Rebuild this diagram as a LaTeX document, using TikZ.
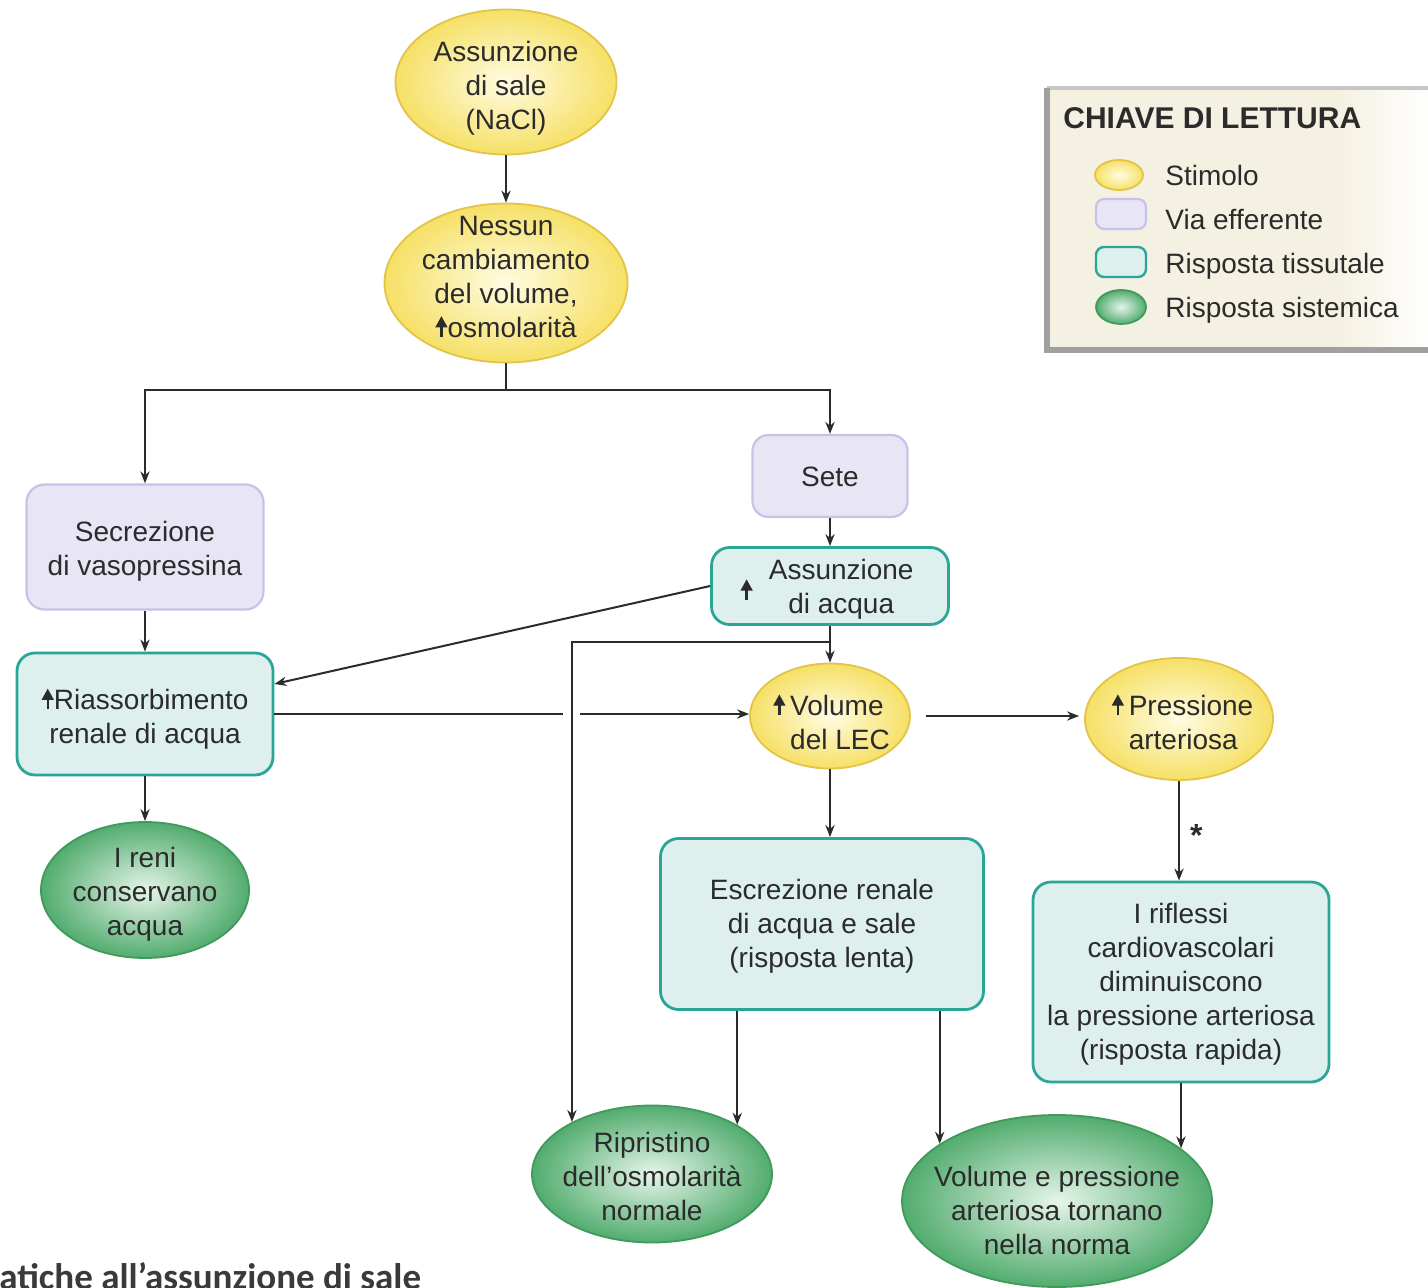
\documentclass[tikz,border=0pt]{standalone}
\usepackage{fontspec}
\setmainfont{Liberation Sans}
\newfontfamily\capfont{Carlito}
\usetikzlibrary{arrows.meta,shapes.geometric,calc}
\definecolor{txt}{HTML}{2B2B2B}
\definecolor{yelin}{HTML}{FFFCE2}
\definecolor{yelout}{HTML}{F6E066}
\definecolor{yelbd}{HTML}{E2C448}
\definecolor{grin}{HTML}{E6F5EA}
\definecolor{grout}{HTML}{52AC6E}
\definecolor{grbd}{HTML}{3F9A5C}
\definecolor{tealfill}{HTML}{DDF0EE}
\definecolor{tealbd}{HTML}{2AA697}
\definecolor{purfill}{HTML}{E8E5F5}
\definecolor{purbd}{HTML}{C9C2E8}
\definecolor{legfill}{HTML}{F5F1E2}
\definecolor{legbd}{HTML}{A0A0A0}
\definecolor{legtop}{HTML}{C6C6C6}
\definecolor{capcol}{HTML}{3A3A3A}
\newcommand{\uparr}[1][0pt]{\tikz[x=1pt,y=1pt,baseline=#1,sharp corners]{\draw[line width=1.2pt,txt,sharp corners] (0,0)--(0,6); \fill[txt,sharp corners] (-3.1,4.8)--(0,10.4)--(3.1,4.8)--cycle;}}
\tikzset{
  txtst/.style={text=txt, font=\fontsize{14}{17}\selectfont, align=center, inner sep=0pt},
  stim/.style={ellipse, draw=yelbd, line width=0.9pt, inner color=yelin, outer color=yelout, inner sep=0pt},
  sist/.style={ellipse, draw=grbd, line width=0.9pt, inner color=grin, outer color=grout, inner sep=0pt},
  tiss/.style={rectangle, rounded corners=9pt, draw=tealbd, line width=1.4pt, fill=tealfill, inner sep=0pt},
  eff/.style={rectangle, rounded corners=9pt, draw=purbd, line width=1.1pt, fill=purfill, inner sep=0pt},
  arr/.style={draw=txt, line width=1pt, -{Stealth[length=6pt,width=4.6pt]}},
  ln/.style={draw=txt, line width=1pt},
  legtxt/.style={text=txt, font=\fontsize{14}{17}\selectfont, inner sep=0pt, anchor=base west},
}
\begin{document}
\begin{tikzpicture}[x=0.5pt,y=-0.5pt]
\useasboundingbox (0,0) rectangle (1428,1288);
\clip (0,0) rectangle (1428,1288);
\fill[white] (0,0) rectangle (1428,1288);

% legend
\fill[legfill] (1045,87) rectangle (1340,352);
\shade[left color=legfill, right color=white] (1339,87) rectangle (1432,352);
\draw[legtop, line width=2pt] (1047,88) -- (1432,88);
\draw[legbd, line width=2.6pt] (1047,88) -- (1047,350) -- (1432,350);
\node[text=txt, font=\bfseries\fontsize{15}{17}\selectfont, inner sep=0pt, anchor=base west] (legtitle) at (1063,129) {CHIAVE DI LETTURA};
\node[stim, minimum width=24pt, minimum height=15pt] (lstim) at (1119,175) {};
\node[eff, rounded corners=4pt, minimum width=25pt, minimum height=15pt] (leff) at (1121,214) {};
\node[tiss, rounded corners=4pt, line width=1.2pt, minimum width=25pt, minimum height=15pt] (ltiss) at (1121,262) {};
\node[sist, minimum width=25pt, minimum height=17pt] (lsist) at (1121,307) {};
\node[legtxt] (lt1) at (1165,186) {Stimolo};
\node[legtxt] (lt2) at (1165,230) {Via efferente};
\node[legtxt] (lt3) at (1165,274) {Risposta tissutale};
\node[legtxt] (lt4) at (1165,318) {Risposta sistemica};

% nodes
\node[stim, minimum width=110.5pt, minimum height=72.5pt,
  label={[txtst,yshift=-3pt]center:{Assunzione\\di sale\\(NaCl)}}] (salt) at (506,82) {};
\node[stim, minimum width=121.5pt, minimum height=79.5pt,
  label={[txtst,yshift=3pt]center:{Nessun\\cambiamento\\del volume,\\\uparr osmolarità}}] (nessun) at (506,283) {};
\node[eff, minimum width=77.5pt, minimum height=41pt, rounded corners=8pt,
  label={[txtst,yshift=-0.5pt]center:{Sete}}] (sete) at (830,476) {};
\node[eff, minimum width=118.5pt, minimum height=62.5pt,
  label={[txtst,yshift=-2pt]center:{Secrezione\\di vasopressina}}] (secr) at (145,547) {};
\node[tiss, minimum width=118.5pt, minimum height=38.5pt,
  label={[txtst,yshift=-2pt,xshift=-1.5pt]center:{\uparr[1.5pt]\hspace{8pt}\begin{tabular}{@{}c@{}}Assunzione\\di acqua\end{tabular}}}] (acqua) at (830,586) {};
\node[tiss, minimum width=128pt, minimum height=61pt,
  label={[txtst,yshift=-2.5pt]center:{\uparr Riassorbimento\\renale di acqua}}] (riass) at (145,714) {};
\node[stim, minimum width=80pt, minimum height=52.5pt,
  label={[txtst,align=left,xshift=5pt,yshift=-3pt]center:{\llap{\uparr\,}Volume\\del LEC}}] (lec) at (830,716) {};
\node[stim, minimum width=94pt, minimum height=61pt,
  label={[txtst,align=left,xshift=6pt,yshift=-1.5pt]center:{\llap{\uparr\,}Pressione\\arteriosa}}] (press) at (1179,719) {};
\node[sist, minimum width=104pt, minimum height=68pt,
  label={[txtst,yshift=-2pt]center:{I reni\\conservano\\acqua}}] (reni) at (145,890) {};
\node[tiss, minimum width=161.5pt, minimum height=85.5pt,
  label={[txtst,yshift=-1pt]center:{Escrezione renale\\di acqua e sale\\(risposta lenta)}}] (escr) at (822,924) {};
\node[tiss, minimum width=148pt, minimum height=100pt,
  label={[txtst,yshift=-1pt]center:{I riflessi\\cardiovascolari\\diminuiscono\\la pressione arteriosa\\(risposta rapida)}}] (rifl) at (1181,982) {};
\node[sist, minimum width=120pt, minimum height=68.5pt,
  label={[txtst,yshift=-1pt]center:{Ripristino\\dell'osmolarità\\normale}}] (rip) at (652,1174) {};
\node[sist, minimum width=155pt, minimum height=86pt,
  label={[txtst,yshift=-4.5pt]center:{Volume e pressione\\arteriosa tornano\\nella norma}}] (norma) at (1057,1201) {};

% connectors
\coordinate (split) at (506,390);
\coordinate (br) at (830,642);
\coordinate (gapL) at (563,714);
\coordinate (gapR) at (580,714);
\draw[arr] (salt.south) -- (nessun.north);
\draw[ln] (nessun.south) -- (split);
\draw[arr] (split) -| (secr.north);
\draw[arr] (split) -| (sete.north);
\draw[arr] (sete.south) -- (acqua.north);
\draw[arr] (secr.south) -- (riass.north);
\draw[arr] (acqua.west) -- ([yshift=15pt]riass.east);
\draw[ln] (riass.east |- gapL) -- (gapL);
\draw[arr] (gapR) -- (gapR -| lec.west);
\draw[arr] (acqua.south) -- (lec.north);
\draw[arr] (br) -| (rip.147.5);
\draw[arr, shorten <=7.5pt, shorten >=2.5pt] (lec.east) -- (lec.east -| press.west);
\draw[arr] (riass.south) -- (reni.north);
\draw[arr] (lec.south) -- (lec.south |- escr.north);
\draw[arr] (press.south) -- (press.south |- rifl.north)
  node[pos=0.55, anchor=west, inner sep=0pt, xshift=5pt, text=txt, font=\bfseries\fontsize{16}{18}\selectfont] (ast) {*};
\draw[arr] (rip.30.8 |- escr.south) -- (rip.30.8);
\draw[arr] (norma.154.3 |- escr.south) -- (norma.154.3);
\draw[arr] (norma.23.5 |- rifl.south) -- (norma.23.5);

% caption
\node[anchor=base west, inner sep=0pt, text=capcol, font=\capfont\bfseries\fontsize{18.5}{20}\selectfont] (caption) at (-1,1289) {atiche all’assunzione di sale};
\end{tikzpicture}
\end{document}
